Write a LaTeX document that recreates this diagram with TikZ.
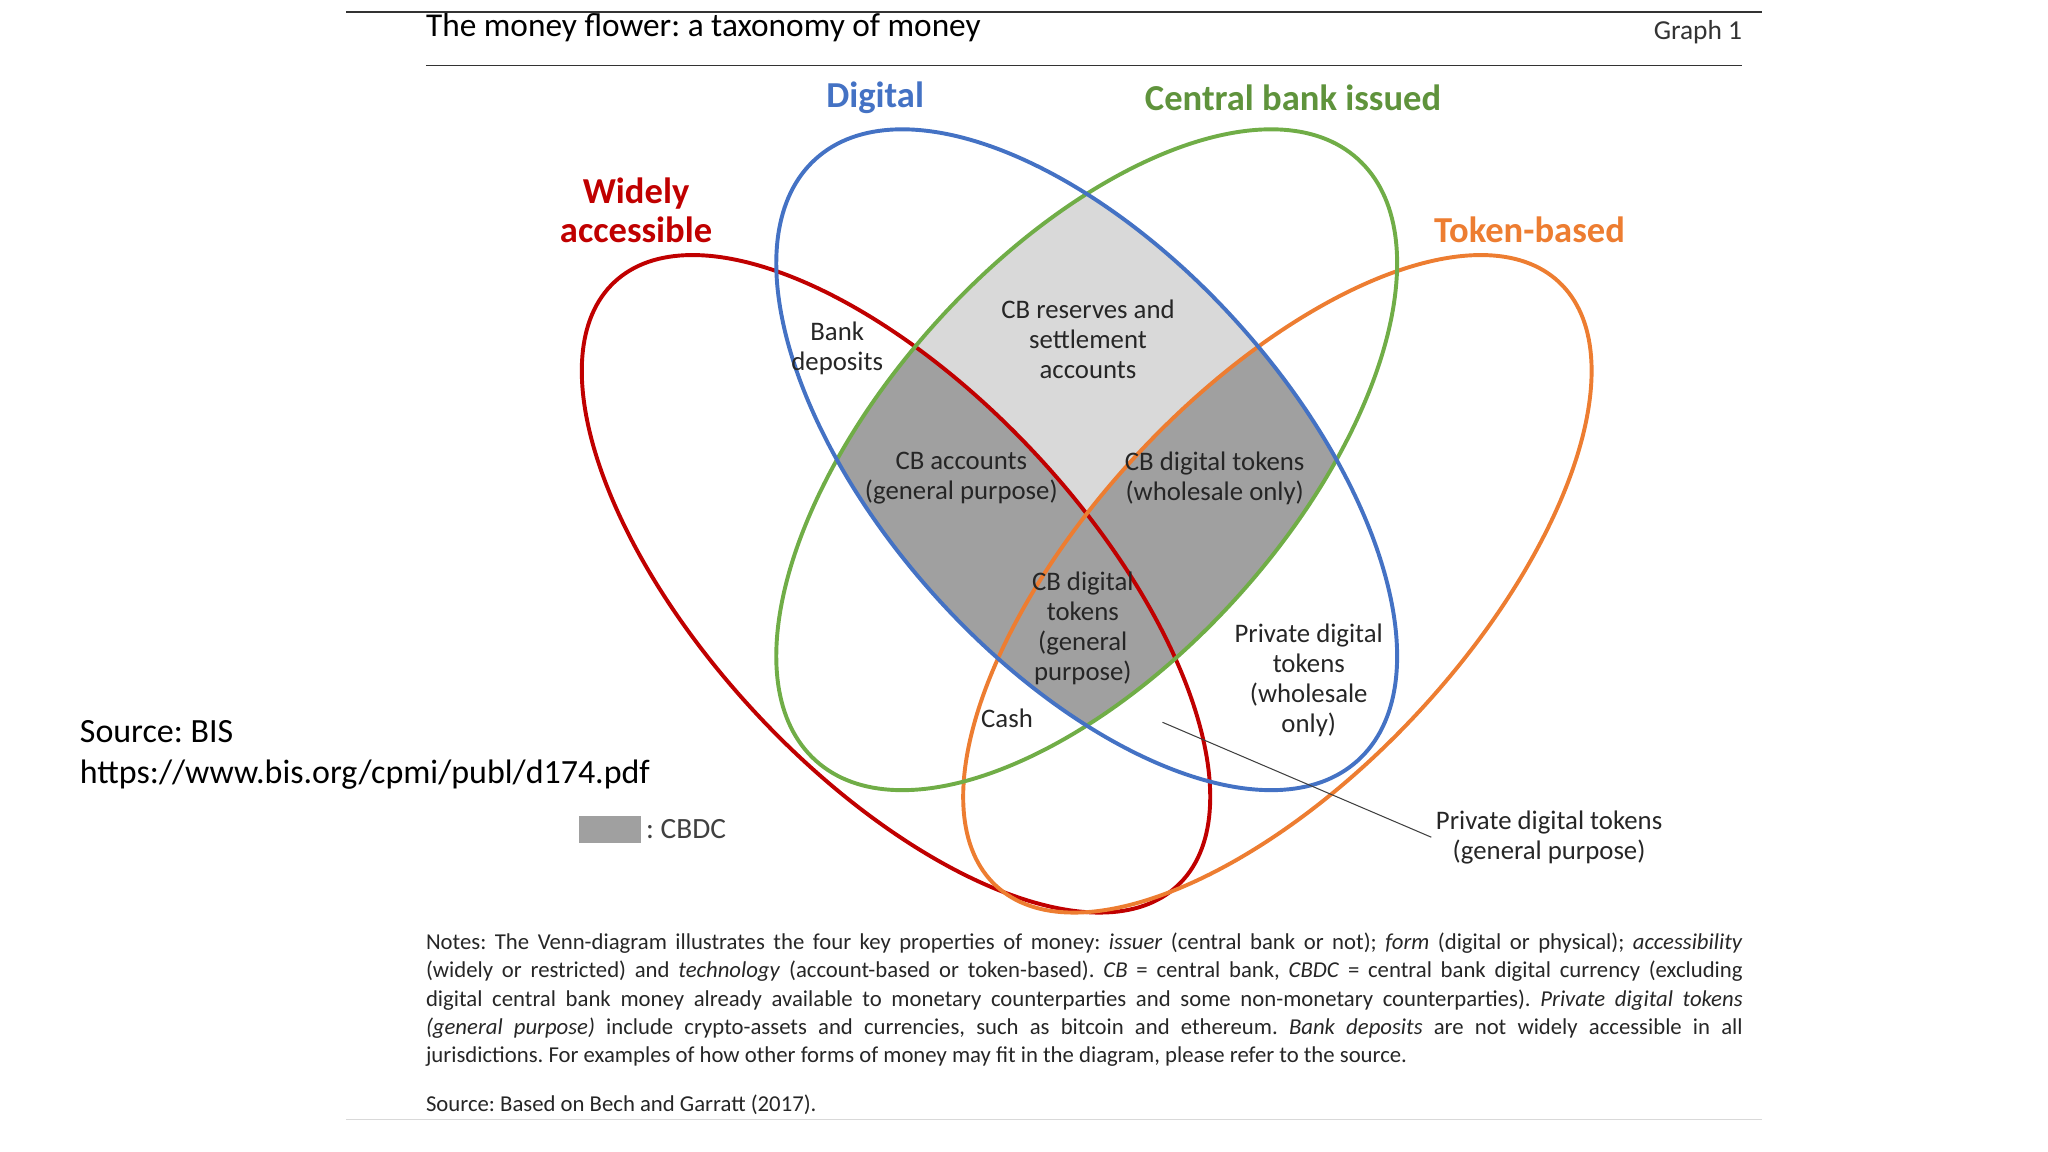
\documentclass[tikz,border=0pt]{standalone}
\usepackage{fontspec}
\setmainfont{Carlito}
\frenchspacing
\definecolor{cblue}{HTML}{4472C4}
\definecolor{cgreen}{HTML}{70AD47}
\definecolor{cred}{HTML}{C00000}
\definecolor{corange}{HTML}{ED7D31}
\definecolor{lgrey}{HTML}{D9D9D9}
\definecolor{dgrey}{HTML}{A0A0A0}
\begin{document}
\begin{tikzpicture}[x=1pt,y=1pt,
  lab/.style={align=center,font=\fontsize{20.5}{23}\selectfont,text=black!85},
  cat/.style={align=center,font=\fontsize{28}{30}\selectfont\bfseries},
  ell/.style={line width=3pt}]
\useasboundingbox (0,0) rectangle (1568,882);
% fills
\begin{scope}
\clip[rotate around={-48:(832,530)}] (832,530) ellipse (310 and 156);
\clip[rotate around={48:(832,530)}] (832,530) ellipse (310 and 156);
\fill[lgrey] (0,0) rectangle (1568,882);
\fill[dgrey,rotate around={-47:(686,435)}] (686,435) ellipse (316 and 146);
\fill[dgrey,rotate around={47:(978,435)}] (978,435) ellipse (316 and 146);
\end{scope}
% outlines
\draw[ell,cred,rotate around={-47:(686,435)}] (686,435) ellipse (316 and 146);
\draw[ell,corange,rotate around={47:(978,435)}] (978,435) ellipse (316 and 146);
\draw[ell,cgreen,rotate around={48:(832,530)}] (832,530) ellipse (310 and 156);
\draw[ell,cblue,rotate around={-48:(832,530)}] (832,530) ellipse (310 and 156);
% header lines
\coordinate (t1) at (265,873); \coordinate (t2) at (1349,873);
\draw[line width=1.5pt,black!80] (t1) -- (t2);
\coordinate (h1) at (326,832); \coordinate (h2) at (1334,832);
\draw[line width=1pt,black!80] (h1) -- (h2);
\coordinate (b1) at (265,25); \coordinate (b2) at (1349,25);
\draw[line width=0.6pt,black!15] (b1) -- (b2);
\node[anchor=base west,inner sep=0,font=\fontsize{25.5}{28}\selectfont] (title) at (326,854) {The money flower: a taxonomy of money};
\node[anchor=base east,inner sep=0,font=\fontsize{21}{24}\selectfont,text=black!80] (graph) at (1334,852) {Graph 1};
% categories
\node[cat,text=cblue] (dig) at (670,807) {Digital};
\node[cat,text=cgreen!85!black] (cbi) at (990,807) {Central bank issued};
\node[cat,text=cred] (wa) at (487,721) {Widely\\accessible};
\node[cat,text=corange] (tb) at (1171,706) {Token-based};
% labels
\node[lab] (bd) at (641,615) {Bank\\deposits};
\node[lab] (cbr) at (833,622) {CB reserves and\\settlement\\accounts};
\node[lab] (cba) at (736,516) {CB accounts\\(general purpose)};
\node[lab] (cbw) at (930,516) {CB digital tokens\\(wholesale only)};
\node[lab] (cbg) at (829,401) {CB digital\\tokens\\(general\\purpose)};
\node[lab] (cash) at (771,332) {Cash};
\node[lab] (pdw) at (1002,361) {Private digital\\tokens\\(wholesale\\only)};
\node[lab] (pdg) at (1186,241) {Private digital tokens\\(general purpose)};
\coordinate (lp) at (890,329);
\draw[black!75,line width=0.8pt] (lp) -- (pdg.west);
% legend
\node[fill=dgrey,minimum width=48,minimum height=21,inner sep=0] (leg) at (467,247) {};
\node[anchor=west,font=\fontsize{22.5}{25}\selectfont,text=black!75] (legt) at (leg.east) {: CBDC};
% source
\node[anchor=west,align=left,inner sep=0,font=\fontsize{26}{31}\selectfont] (src) at (61,304) {Source: BIS\\https://www.bis.org/cpmi/publ/d174.pdf};
% notes
\node[anchor=north west,text width=1008,align=justify,inner sep=0,font=\fontsize{17.4}{21.7}\selectfont,text=black!85] (notes) at (326,168) {Notes: The Venn-diagram illustrates the four key properties of money: \textit{issuer} (central bank or not); \textit{form} (digital or physical); \textit{accessibility}\linebreak (widely or restricted) and \textit{technology} (account-based or token-based). \textit{CB} = central bank, \textit{CBDC} = central bank digital currency (excluding\linebreak digital central bank money already available to monetary counterparties and some non-monetary counterparties). \textit{Private digital tokens}\linebreak \textit{(general purpose)} include crypto-assets and currencies, such as bitcoin and ethereum. \textit{Bank deposits} are not widely accessible in all\linebreak jurisdictions. For examples of how other forms of money may fit in the diagram, please refer to the source.};
\node[anchor=base west,inner sep=0,font=\fontsize{17.4}{20}\selectfont,text=black!85] (src2) at (326,31) {Source: Based on Bech and Garratt (2017).};
\end{tikzpicture}
\end{document}
